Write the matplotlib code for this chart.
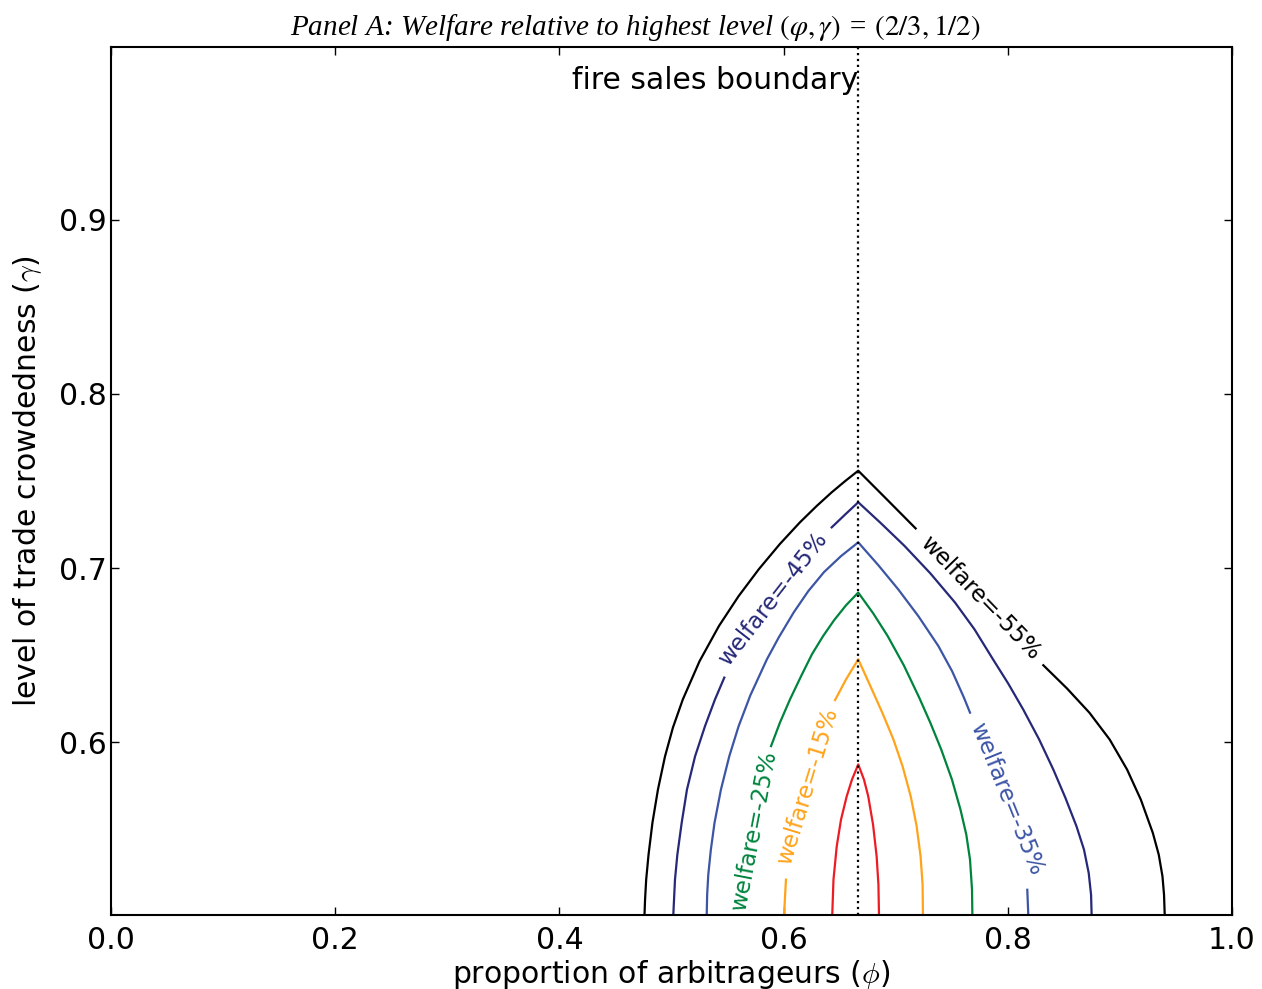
import numpy as np
import matplotlib
matplotlib.use("Agg")
import matplotlib.pyplot as plt

nan = float("nan")

# contour levels (welfare relative to highest level)
levels = ["-55%", "-45%", "-35%", "-25%", "-15%", "-5%"]
colors = ["#000000", "#262878", "#3c55a5", "#00843d", "#ffa31a", "#ed1c24"]

# each contour: (phi, gamma) points; nan = gap for inline label
phi_55 = [0.4759, 0.4764, 0.4774, 0.4795, 0.4830, 0.4879, 0.4942, 0.5013, 0.5101, 0.5250,
          0.5423, 0.5598, 0.5779, 0.5966, 0.6146, 0.6294, 0.6429, 0.6550, 0.6666,
          0.6922, 0.7178, nan,
          0.8317, 0.8528, 0.8728, 0.8909, 0.9064, 0.9187, 0.9294, 0.9347, 0.9380, 0.9394, 0.9400]
gam_55 = [0.5011, 0.5098, 0.5213, 0.5356, 0.5540, 0.5730, 0.5920, 0.6086, 0.6247, 0.6466,
          0.6668, 0.6839, 0.6994, 0.7138, 0.7263, 0.7356, 0.7435, 0.7500, 0.7559,
          0.7394, 0.7228, nan,
          0.6443, 0.6310, 0.6171, 0.6017, 0.5845, 0.5672, 0.5481, 0.5356, 0.5232, 0.5126, 0.5011]

phi_45 = [0.5016, 0.5031, 0.5052, 0.5091, 0.5138, 0.5210, 0.5299, 0.5388, 0.5471, nan,
          0.6429, 0.6548, 0.6666, 0.6871, 0.7078, 0.7308, 0.7529, 0.7703, 0.7868, 0.8003,
          0.8137, 0.8280, 0.8406, 0.8513, 0.8613, 0.8680, 0.8722, 0.8743, 0.8748]
gam_45 = [0.5011, 0.5213, 0.5356, 0.5540, 0.5730, 0.5920, 0.6094, 0.6247, 0.6372, nan,
          0.7234, 0.7307, 0.7378, 0.7256, 0.7128, 0.6971, 0.6803, 0.6649, 0.6477, 0.6339,
          0.6190, 0.6017, 0.5845, 0.5684, 0.5519, 0.5385, 0.5251, 0.5126, 0.5011]

phi_35 = [0.5314, 0.5318, 0.5328, 0.5351, 0.5384, 0.5441, 0.5515, 0.5598, 0.5703, 0.5851,
          0.5957, 0.6091, 0.6220, 0.6360, 0.6512, 0.6666,
          0.6845, 0.7022, 0.7203, 0.7381, 0.7504, 0.7609, 0.7663, nan, 0.8174, 0.8183]
gam_35 = [0.5011, 0.5126, 0.5241, 0.5385, 0.5540, 0.5730, 0.5920, 0.6092, 0.6270, 0.6477,
          0.6603, 0.6747, 0.6868, 0.6977, 0.7069, 0.7148,
          0.7017, 0.6879, 0.6724, 0.6553, 0.6408, 0.6257, 0.6171, nan, 0.5155, 0.5011]

phi_25 = [0.5888, 0.5968, 0.6057, 0.6155, 0.6253, 0.6351, 0.6450, 0.6557, 0.6666,
          0.6799, 0.6928, 0.7072, 0.7210, 0.7309, 0.7406, 0.7502, 0.7578, 0.7630, 0.7663,
          0.7681, 0.7684]
gam_25 = [0.5979, 0.6115, 0.6247, 0.6379, 0.6506, 0.6609, 0.6701, 0.6787, 0.6860,
          0.6741, 0.6611, 0.6443, 0.6257, 0.6113, 0.5960, 0.5787, 0.5615, 0.5471, 0.5328,
          0.5155, 0.5011]

phi_15 = [0.6004, 0.6021, nan, 0.6459, 0.6557, 0.6666, 0.6787, 0.6883, 0.6980, 0.7062,
          0.7134, 0.7186, 0.7222, 0.7240, 0.7243]
gam_15 = [0.5011, 0.5213, nan, 0.6243, 0.6362, 0.6477, 0.6305, 0.6167, 0.6017, 0.5862,
          0.5691, 0.5523, 0.5347, 0.5184, 0.5011]

phi_05 = [0.6434, 0.6445, 0.6474, 0.6512, 0.6563, 0.6610, 0.6666, 0.6717, 0.6755,
          0.6798, 0.6830, 0.6846, 0.6851]
gam_05 = [0.5011, 0.5213, 0.5404, 0.5557, 0.5691, 0.5787, 0.5874, 0.5787, 0.5691,
          0.5529, 0.5347, 0.5184, 0.5011]

phis = [phi_55, phi_45, phi_35, phi_25, phi_15, phi_05]
gams = [gam_55, gam_45, gam_35, gam_25, gam_15, gam_05]

# inline labels: (phi, gamma, rotation)
label_levels = ["-55%", "-45%", "-35%", "-25%", "-15%"]
label_phi = [0.7752, 0.5908, 0.7990, 0.5736, 0.6213]
label_gam = [0.6828, 0.6822, 0.5678, 0.5490, 0.5749]
label_rot = [-46, 52, -68, 79, 73]

boundary_phi = 2.0 / 3.0

plt.rcParams["mathtext.fontset"] = "cm"
fig = plt.figure(figsize=(12.62, 9.89), dpi=100)
ax = fig.add_axes([0.088, 0.0748, 0.8882, 0.8777])

for ph, gm, c in zip(phis, gams, colors):
    ax.plot(ph, gm, color=c, lw=1.6, solid_joinstyle="round")

for lv, x, y, r in zip(label_levels, label_phi, label_gam, label_rot):
    c = colors[levels.index(lv)]
    ax.text(x, y, "welfare=" + lv, color=c, rotation=r, fontsize=16.5,
            ha="center", va="center", rotation_mode="anchor")

ax.axvline(boundary_phi, color="black", ls=":", lw=1.6)
ax.text(boundary_phi, 0.98, "fire sales boundary", ha="right", va="center",
        fontsize=21.5)

ax.set_xlim(0.0, 1.0)
ax.set_ylim(0.501, 0.999)
ax.set_xticks([0.0, 0.2, 0.4, 0.6, 0.8, 1.0])
ax.set_yticks([0.6, 0.7, 0.8, 0.9])
ax.tick_params(direction="in", top=True, right=True, length=6, width=1.0,
               labelsize=21.5)
ax.tick_params(axis="x", pad=8)
ax.tick_params(axis="y", pad=3)
for s in ax.spines.values():
    s.set_linewidth(1.5)

ax.set_xlabel(r"proportion of arbitrageurs ($\phi$)", fontsize=21.5, labelpad=2)
ax.set_ylabel(r"level of trade crowdedness ($\gamma$)", fontsize=21.5, labelpad=11)
fig.text(0.503, 0.972,
         r"Panel A: Welfare relative to highest level $(\varphi, \gamma)$ = $(2/3, 1/2)$",
         fontsize=21, family="Liberation Serif", style="italic",
         math_fontfamily="stix", ha="center", va="center")

fig.savefig("out.png", dpi=100)
